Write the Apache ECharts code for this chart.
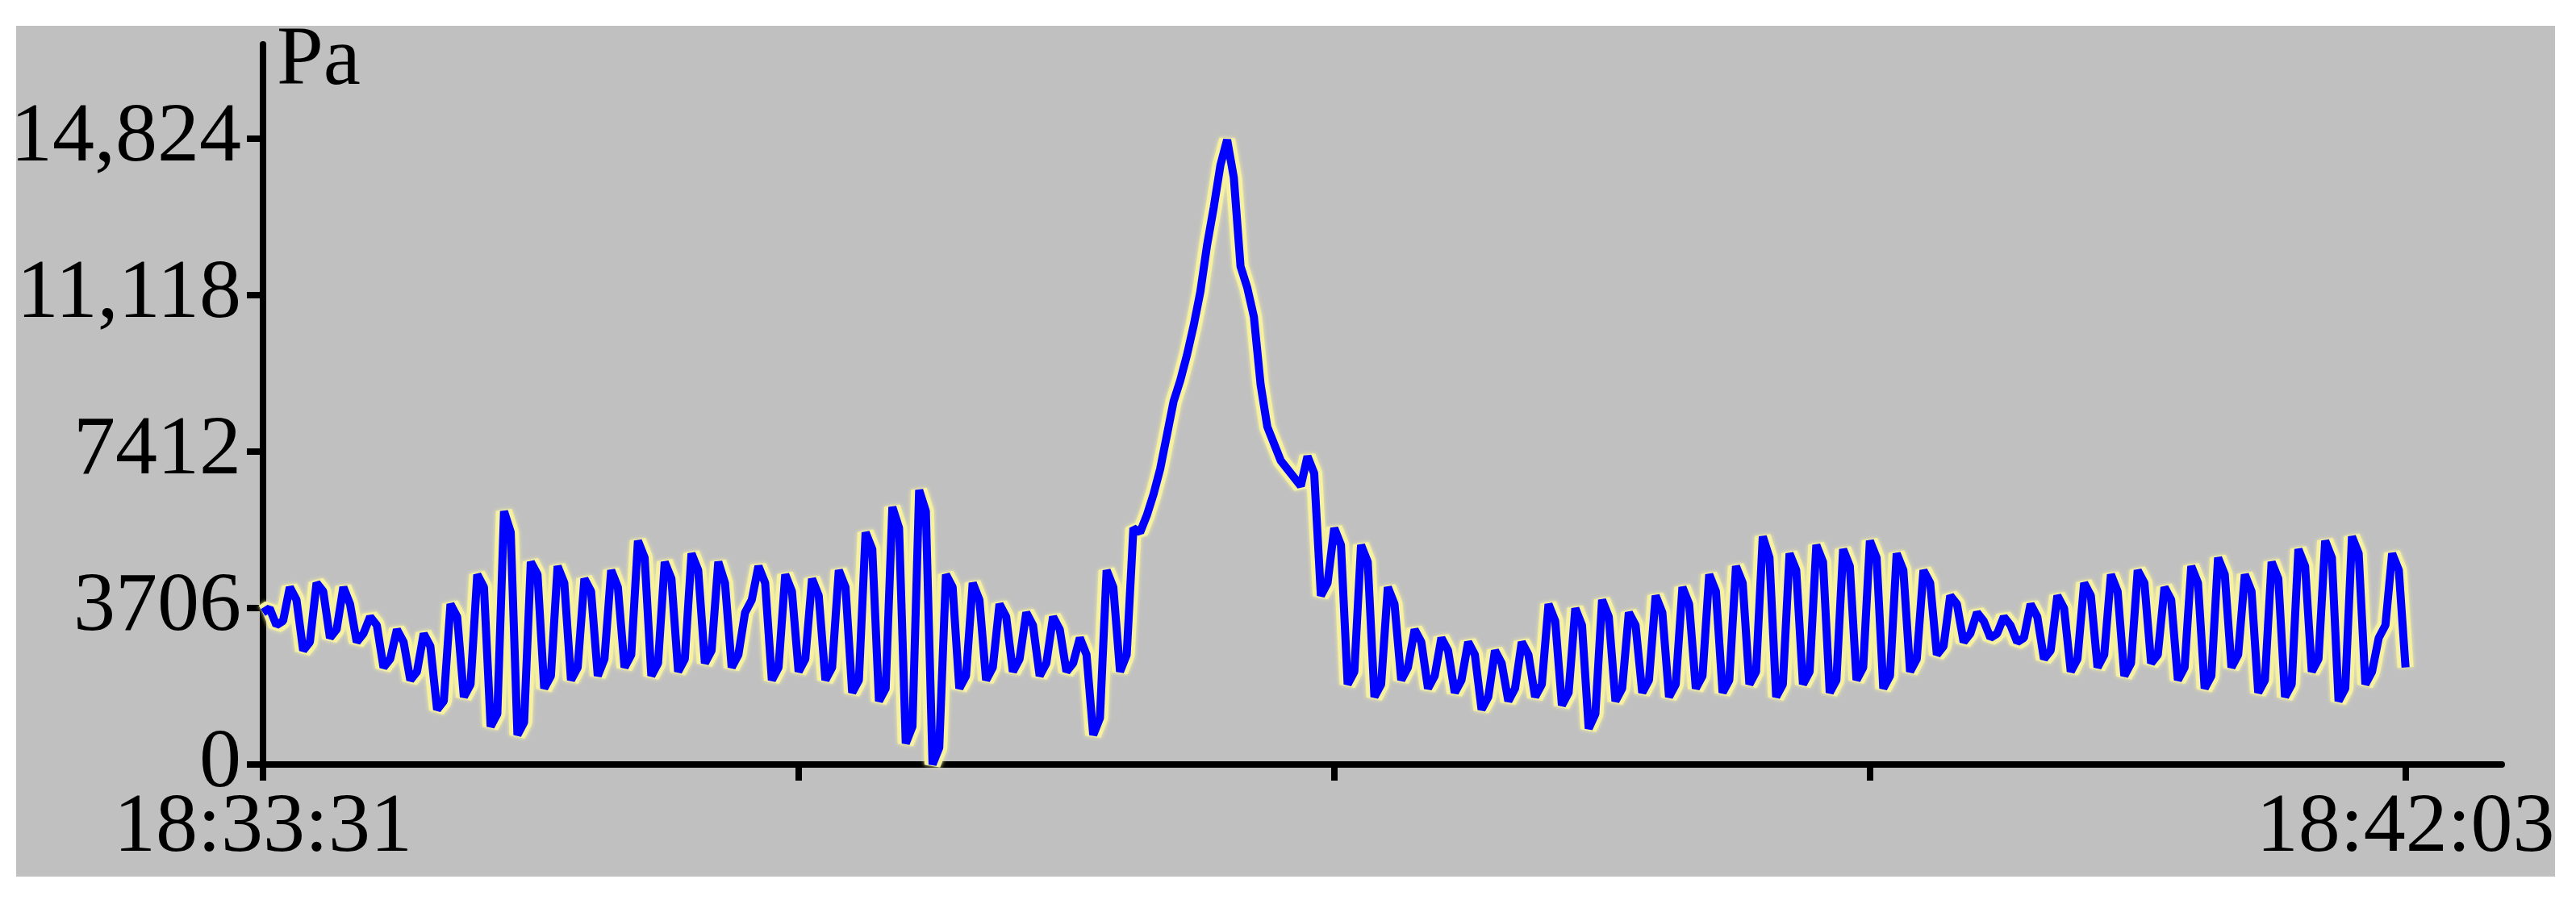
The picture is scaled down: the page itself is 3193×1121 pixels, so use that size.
<!DOCTYPE html>
<html>
<head>
<meta charset="utf-8">
<script src="https://cdn.jsdelivr.net/npm/echarts@6/dist/echarts.min.js"></script>
<style>
  html, body { margin: 0; padding: 0; background: #fff; overflow: hidden; }
  #pressure-chart { width: 3193px; height: 1121px; }
</style>
</head>
<body>
<div id="pressure-chart"></div>
<script>
// recording start and sampling step (seconds)
var startTime = '18:33:31';
var sampleStep = 1.6;

// pressure readings in Pa, one per sample
var pressure = [
  3600, 3700, 3300, 3400, 4200, 3900, 2700, 2900, 4300, 4100, 3000, 3200, 4200, 3800, 2900, 3100, 3500, 3300, 2300, 2500,
  3200, 2900, 2000, 2200, 3100, 2800, 1300, 1500, 3800, 3500, 1600, 1900, 4500, 4200, 900, 1200, 6000, 5500, 700, 1000,
  4800, 4500, 1800, 2100, 4700, 4300, 2000, 2300, 4400, 4100, 2100, 2500, 4600, 4200, 2300, 2600, 5300, 4900, 2100, 2400,
  4800, 4400, 2200, 2500, 5000, 4600, 2400, 2700, 4800, 4300, 2300, 2600, 3600, 3900, 4700, 4300, 2000, 2300, 4500, 4100,
  2200, 2500, 4400, 4000, 2000, 2300, 4600, 4200, 1700, 2000, 5500, 5100, 1500, 1800, 6100, 5600, 500, 900, 6500, 6000,
  0, 400, 4500, 4200, 1800, 2100, 4300, 3900, 2000, 2300, 3800, 3500, 2200, 2500, 3600, 3300, 2100, 2400, 3500, 3200,
  2200, 2400, 3000, 2600, 700, 1100, 4600, 4200, 2200, 2600, 5600, 5500, 5900, 6400, 7000, 7800, 8600, 9100, 9700, 10400,
  11200, 12300, 13200, 14200, 14800, 13900, 11800, 11300, 10600, 9000, 8000, 7600, 7200, 7000, 6800, 6600, 7300, 6900, 4000, 4300,
  5600, 5200, 1900, 2200, 5200, 4800, 1600, 1900, 4200, 3800, 2000, 2300, 3200, 2900, 1800, 2100, 3000, 2700, 1700, 2000,
  2900, 2600, 1300, 1600, 2700, 2400, 1500, 1800, 2900, 2600, 1600, 1900, 3800, 3400, 1400, 1700, 3700, 3300, 850, 1200,
  3900, 3500, 1500, 1800, 3600, 3300, 1700, 2000, 4000, 3600, 1600, 1900, 4200, 3800, 1800, 2100, 4500, 4100, 1700, 2000,
  4700, 4300, 1900, 2200, 5400, 4900, 1600, 1900, 5000, 4600, 1900, 2200, 5200, 4800, 1700, 2000, 5100, 4700, 2000, 2300,
  5300, 4900, 1800, 2100, 5000, 4600, 2200, 2500, 4600, 4300, 2600, 2800, 4000, 3800, 2900, 3100, 3600, 3400, 3000, 3100,
  3500, 3300, 2900, 3000, 3800, 3500, 2500, 2700, 4000, 3700, 2200, 2500, 4300, 4000, 2300, 2600, 4500, 4100, 2100, 2400,
  4600, 4300, 2400, 2600, 4200, 3900, 2000, 2300, 4700, 4300, 1800, 2100, 4900, 4500, 2300, 2600, 4500, 4100, 1700, 2000,
  4800, 4400, 1600, 1900, 5100, 4700, 2200, 2500, 5300, 4900, 1500, 1800, 5400, 5000, 1900, 2200, 3000, 3300, 5000, 4600,
  2300
];

// axis ticks
var yTicks = [0, 3706, 7412, 11118, 14824];
var xTicks = [0, 128, 256, 384, 512];
var xLabels = [0, 512];

function pad(n, len) {
  var s = '' + n;
  while (s.length < len) s = '0' + s;
  return s;
}

function clock(offset) {
  var p = startTime.split(':');
  var t = (+p[0]) * 3600 + (+p[1]) * 60 + (+p[2]) + Math.round(offset);
  return pad(Math.floor(t / 3600) % 24, 2) + ':' + pad(Math.floor(t / 60) % 60, 2) + ':' + pad(t % 60, 2);
}

function paLabel(v) {
  if (v >= 10000) return Math.floor(v / 1000) + ',' + pad(v % 1000, 3);
  return '' + v;
}

var points = pressure.map(function (v, i) {
  return [i * sampleStep, v];
});

var font = {
  fontFamily: 'Liberation Serif',
  fontSize: 104,
  color: '#000'
};

echarts.init(document.getElementById('pressure-chart')).setOption({
  animation: false,
  backgroundColor: '#fff',
  graphic: [{
    type: 'rect',
    z: -10,
    silent: true,
    shape: { x: 20, y: 32, width: 3147, height: 1055 },
    style: { fill: '#c0c0c0' }
  }],
  grid: { left: 326, right: 92, top: 55, bottom: 173 },
  xAxis: {
    type: 'value',
    min: 0,
    max: 535,
    axisLine: { show: true, lineStyle: { color: '#000', width: 8 } },
    axisTick: {
      show: true,
      length: 20,
      customValues: xTicks,
      lineStyle: { color: '#000', width: 8 }
    },
    axisLabel: Object.assign({
      customValues: xLabels,
      formatter: clock,
      margin: 28
    }, font),
    splitLine: { show: false }
  },
  yAxis: {
    type: 'value',
    min: 0,
    max: 17060,
    name: 'Pa',
    nameLocation: 'end',
    nameGap: 30,
    nameTextStyle: Object.assign({
      align: 'left',
      verticalAlign: 'top',
      padding: [0, 0, 0, 17]
    }, font),
    axisLine: { show: true, lineStyle: { color: '#000', width: 8 } },
    axisTick: {
      show: true,
      length: 20,
      customValues: yTicks,
      lineStyle: { color: '#000', width: 8 }
    },
    axisLabel: Object.assign({
      customValues: yTicks,
      formatter: paLabel,
      margin: 27
    }, font),
    splitLine: { show: false }
  },
  series: [
    {
      type: 'line',
      data: points,
      symbol: 'none',
      silent: true,
      z: 1,
      lineStyle: { color: '#f5f1a0', width: 20, shadowColor: '#f5f1a0', shadowBlur: 5 }
    },
    {
      type: 'line',
      data: points,
      symbol: 'none',
      z: 2,
      lineStyle: { color: '#0000ff', width: 10 }
    }
  ]
});
</script>
</body>
</html>
